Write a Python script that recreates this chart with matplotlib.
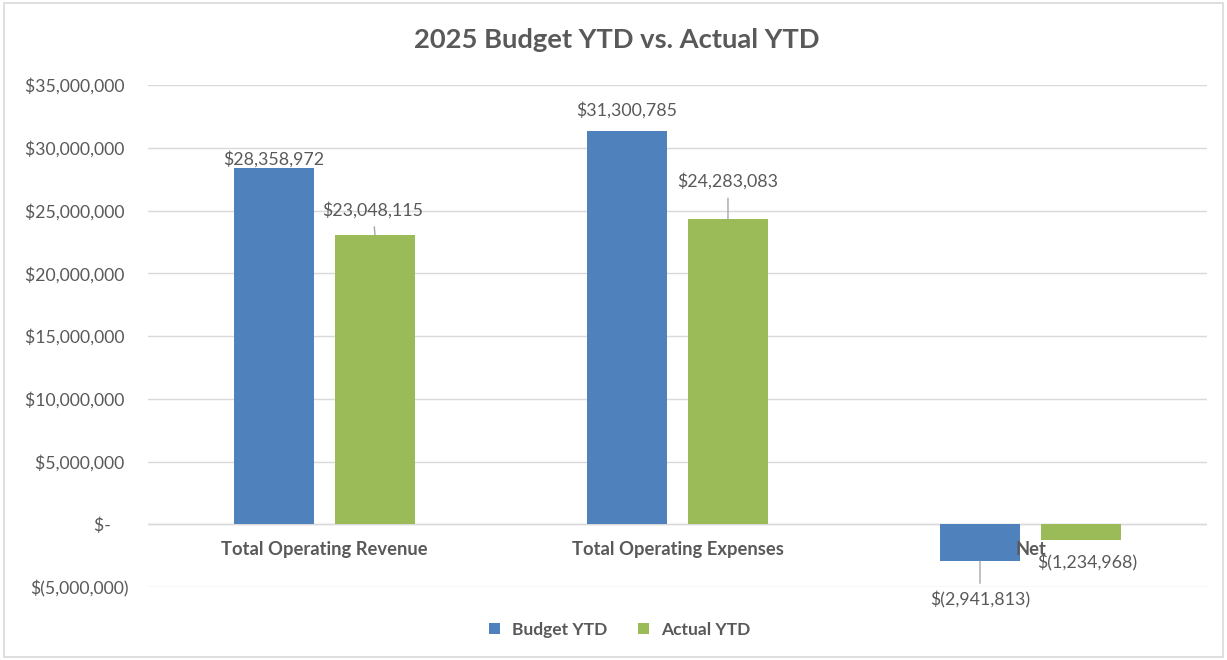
import matplotlib
matplotlib.use("Agg")
import matplotlib.pyplot as plt
from matplotlib.patches import Rectangle
from matplotlib.ticker import FuncFormatter
import numpy as np

plt.rcParams['font.family'] = ['Lato', 'DejaVu Sans']

categories = ["Total Operating Revenue", "Total Operating Expenses", "Net"]
series_names = ["Budget YTD", "Actual YTD"]
budget = [28358972, 31300785, -2941813]
actual = [23048115, 24283083, -1234968]
yticks = [-5000000, 0, 5000000, 10000000, 15000000, 20000000, 25000000, 30000000, 35000000]
title = "2025 Budget YTD vs. Actual YTD"

BLUE = "#4F81BD"
GREEN = "#9BBB59"
TXT = "#595959"
GRID = "#D9D9D9"

fig = plt.figure(figsize=(12.27, 6.6), dpi=100)
fig.patches.append(Rectangle((0.003, 0.004), 0.994, 0.992, transform=fig.transFigure,
                             fill=False, edgecolor="#D9D9D9", linewidth=1.2))
ax = fig.add_axes([148/1227, 1-587/660, (1207-148)/1227, (587-85)/660])

x = np.arange(len(categories))
w = 0.224
off = 0.143
b1 = ax.bar(x - off, budget, w, color=BLUE, zorder=3)
b2 = ax.bar(x + off, actual, w, color=GREEN, zorder=3)

ax.set_xlim(-0.5, 2.5)
ax.set_ylim(yticks[0], yticks[-1])
ax.set_yticks(yticks)

def acct(v):
    if v == 0:
        return "$-    "
    if v < 0:
        return "$(" + f"{-v:,.0f}" + ")"
    return "$" + f"{v:,.0f}" + " "

ax.yaxis.set_major_formatter(FuncFormatter(lambda v, p: acct(v)))
ax.tick_params(axis='y', length=0, labelsize=12.7, labelcolor=TXT, pad=14)
ax.tick_params(axis='x', length=0, labelbottom=False)
ax.grid(axis='y', color=GRID, linewidth=1, zorder=0)
for s in ax.spines.values():
    s.set_visible(False)
ax.axhline(0, color=GRID, linewidth=1, zorder=2)

for xi, c in zip(x, categories):
    ax.annotate(c, (xi, 0), xytext=(0, -18.5), textcoords='offset points',
                ha='center', va='center', fontsize=13.2, fontweight='bold', color=TXT, zorder=5)

def fmt(v):
    return acct(v).strip()

label_specs_b = [(0, 9, False), (0, 21, False), (0, -39, True)]
label_specs_a = [(-2, 25, True), (0, 38, True), (6, -23, False)]
px = 72/100
for bars, vals, specs in [(b1, budget, label_specs_b), (b2, actual, label_specs_a)]:
    for bar, v, (dx, dy, lead) in zip(bars, vals, specs):
        cx = bar.get_x() + bar.get_width()/2
        if lead:
            ax.annotate(fmt(v), (cx, v), xytext=(dx*px, dy*px), textcoords='offset points',
                        ha='center', va='center', fontsize=12.8, color=TXT, zorder=6,
                        arrowprops=dict(arrowstyle='-', color="#A6A6A6", lw=1,
                                        shrinkA=4, shrinkB=0))
        else:
            ax.annotate(fmt(v), (cx, v), xytext=(dx*px, dy*px), textcoords='offset points',
                        ha='center', va='center', fontsize=12.8, color=TXT, zorder=6)

fig.text(617/1227, 1-40/660, title, ha='center', va='center', fontsize=19.7,
         fontweight='bold', color=TXT)

leg = fig.legend([b1, b2], series_names, loc='center', bbox_to_anchor=(0.505, 1-630/660),
                 ncol=2, frameon=False, handlelength=0.6, handleheight=0.6,
                 handletextpad=0.7, columnspacing=1.8,
                 prop={'weight': 'bold', 'size': 12.5})
for t in leg.get_texts():
    t.set_color(TXT)

fig.savefig("out.png", dpi=100)
